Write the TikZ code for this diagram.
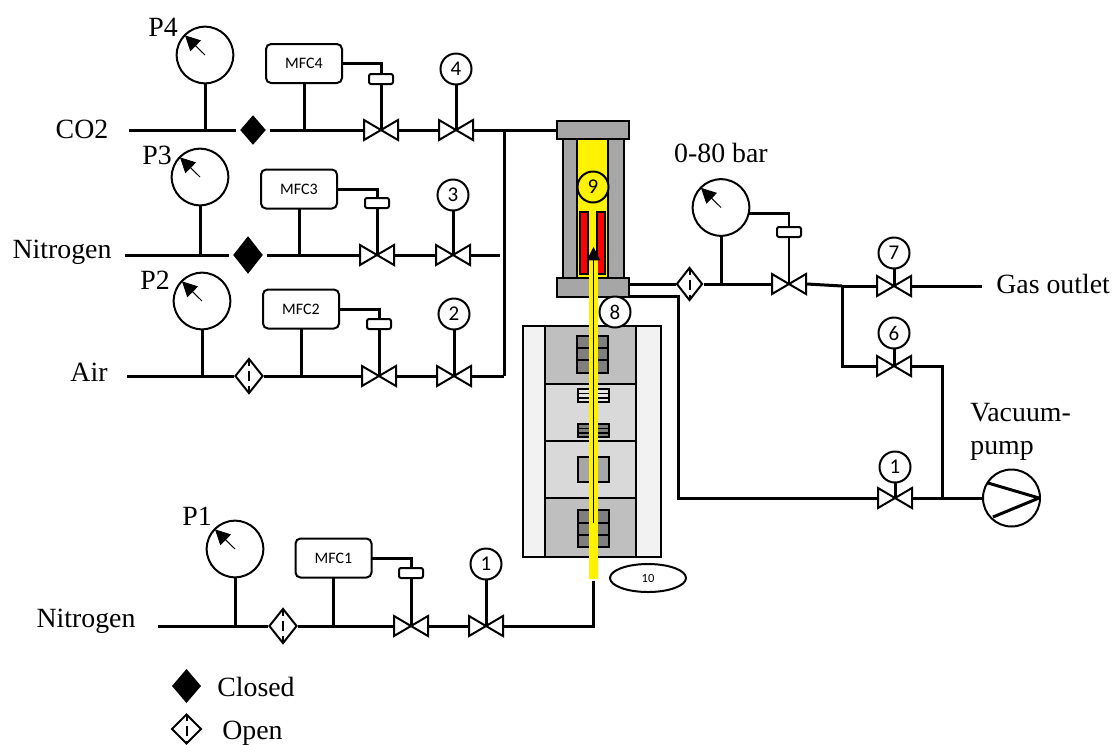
\documentclass[tikz,border=0pt]{standalone}
\usepackage{fontspec}
\setmainfont{Liberation Serif}
\newfontfamily\labelsans{Carlito}
\usetikzlibrary{arrows.meta,shapes.geometric,calc}
\tikzset{
  pipe/.style={line width=1.8pt},
  thinbox/.style={draw, line width=1.2pt},
  plainlabel/.style={font=\fontsize{16.7}{19.8}\selectfont, inner sep=0pt},
  valve/.style={rectangle, inner sep=0pt, outer sep=0pt, minimum width=21.6pt, minimum height=14.4pt,
    path picture={
      \draw[line width=1.2pt, fill=white] (path picture bounding box.center) -- +(-10.2pt,-6pt) -- +(-10.2pt,6pt) -- cycle;
      \draw[line width=1.2pt, fill=white] (path picture bounding box.center) -- +(10.2pt,-6pt) -- +(10.2pt,6pt) -- cycle;
    }},
  gauge/.style={circle, draw, fill=white, line width=1.2pt, inner sep=0pt, outer sep=0pt, minimum size=34pt,
    path picture={
      \draw[line width=0.6pt, -{Triangle[length=9pt,width=9pt]}] (path picture bounding box.center) -- +(-12pt,11.8pt);
    }},
  mfc/.style={draw, fill=white, line width=1.2pt, rounded corners=3pt, minimum width=45.6pt, minimum height=23.4pt,
    inner sep=0pt, outer sep=0pt, font=\labelsans\fontsize{9.6}{11}\selectfont},
  actuator/.style={draw, fill=white, line width=1.2pt, rounded corners=1.2pt, minimum width=14.4pt, minimum height=6pt,
    inner sep=0pt, outer sep=0pt},
  number/.style={circle, draw, fill=white, line width=1.2pt, minimum size=18.6pt, inner sep=0pt, outer sep=0pt,
    font=\labelsans\fontsize{12.6}{14}\selectfont},
  closedcheck/.style={diamond, fill=black, inner sep=0pt, outer sep=1.8pt},
  opencheck/.style={diamond, draw, fill=white, line width=1.2pt, inner sep=0pt, outer sep=0.6pt,
    path picture={
      \draw[line width=1.2pt, dash pattern=on 4pt off 3pt on 6pt off 3pt on 4pt] (path picture bounding box.north) -- (path picture bounding box.south);
    }},
  flange/.style={draw, fill={rgb,255:red,166; green,166; blue,166}, line width=1.2pt, minimum width=43.2pt, minimum height=11.1pt,
    inner sep=0pt, outer sep=0pt},
  furnace/.style={draw, line width=1.2pt},
  coil/.style={draw, line width=1.2pt, fill={rgb,255:red,127; green,127; blue,127}}
}
\begin{document}
\begin{tikzpicture}[x=0.6pt,y=-0.6pt]
  \useasboundingbox (0,0) rectangle (1115,744);

  \draw [furnace, fill={rgb,255:red,242; green,242; blue,242}] (523,326) rectangle (545,557);
  \draw [furnace, fill={rgb,255:red,242; green,242; blue,242}] (636,326) rectangle (661,557);
  \draw [furnace, fill={rgb,255:red,191; green,191; blue,191}] (545,326) rectangle (636,384);
  \draw [furnace, fill={rgb,255:red,217; green,217; blue,217}] (545,384) rectangle (636,441);
  \draw [furnace, fill={rgb,255:red,217; green,217; blue,217}] (545,441) rectangle (636,498);
  \draw [furnace, fill={rgb,255:red,191; green,191; blue,191}] (545,498) rectangle (636,557);
  \draw [coil] (577,336) rectangle (608,373);
  \draw [line width=1.2pt] (577,348) -- (608,348) (577,360) -- (608,360);
  \draw [coil, fill={rgb,255:red,230; green,230; blue,230}] (578,389) rectangle (609,402);
  \draw [line width=0.9pt] (578,393.5) -- (609,393.5) (578,398) -- (609,398);
  \draw [coil] (578,424) rectangle (609,437);
  \draw [line width=0.9pt] (578,428.5) -- (609,428.5) (578,433) -- (609,433);
  \draw [coil, fill={rgb,255:red,166; green,166; blue,166}] (578,457) rectangle (609,482);
  \draw [coil] (578,510) rectangle (609,547);
  \draw [line width=1.2pt] (578,523) -- (609,523) (578,535) -- (609,535);

  \draw [furnace, fill={rgb,255:red,166; green,166; blue,166}] (563,139) rectangle (577,278);
  \draw [furnace, fill={rgb,255:red,166; green,166; blue,166}] (608,139) rectangle (624,278);
  \draw [furnace, fill=yellow] (577,139) rectangle (608,278);
  \draw [furnace, fill=red] (580,212) rectangle (588,274);
  \draw [furnace, fill=red] (597,212) rectangle (605,274);
  \node [flange] (topflange) at (593,130) {};
  \node [flange] (botflange) at (593,287.5) {};
  \node [number, fill=yellow] (n9) at (593,187) {9};
  \draw [line width=5.4pt, yellow] (593,260) -- (593,579);
  \draw [line width=0.9pt, -{Triangle[length=8pt,width=8pt]}] (593.5,523) -- (593.5,247);
  \node [number] (n8) at (615,312) {8};
  \node [ellipse, draw, line width=1.2pt, minimum width=45.6pt, minimum height=16.8pt, inner sep=0pt, font=\labelsans\fontsize{7.5}{9}\selectfont] (n10) at (648,578) {10};

  \coordinate (co2start) at (129,130);
  \coordinate (co2end) at (504,130);
  \coordinate (nitrostart) at (125,255);
  \coordinate (nitroend) at (500,255);
  \coordinate (airstart) at (127,376);
  \coordinate (airend) at (504,376);
  \coordinate (purgestart) at (158,626);
  \coordinate (tubeend) at (593.5,581);

  \node [gauge] (P4) at (205,55) {};
  \node [closedcheck, minimum width=16.8pt, minimum height=19.2pt] (D4) at (253,130) {};
  \node [mfc] (MFC4) at (304,63.5) {MFC4};
  \node [actuator] (act4) at (381,79) {};
  \node [valve] (Vm4) at (381,130) {};
  \node [valve] (V4) at (456,130) {};
  \node [number] (n4) at (456,69) {4};

  \node [gauge] (P3) at (200,177) {};
  \node [closedcheck, minimum width=19.2pt, minimum height=24pt] (D3) at (248,255) {};
  \node [mfc] (MFC3) at (299,189) {MFC3};
  \node [actuator] (act3) at (377,203) {};
  \node [valve] (Vm3) at (377,255) {};
  \node [valve] (V3) at (453,255) {};
  \node [number] (n3) at (453,195) {3};

  \node [gauge] (P2) at (202,301) {};
  \node [opencheck, minimum width=16.8pt, minimum height=21pt] (D2) at (249,376) {};
  \node [mfc] (MFC2) at (301,309) {MFC2};
  \node [actuator] (act2) at (379,324) {};
  \node [valve] (Vm2) at (379,376) {};
  \node [valve] (V2) at (454,376) {};
  \node [number] (n2) at (454,314) {2};

  \node [gauge] (P1) at (235,549) {};
  \node [opencheck, minimum width=16.8pt, minimum height=21pt] (D1) at (283,626) {};
  \node [mfc] (MFC1) at (333.5,558) {MFC1};
  \node [actuator] (act1) at (411,573) {};
  \node [valve] (Vm1) at (411,626) {};
  \node [valve] (V1) at (486,626) {};
  \node [number] (n1) at (486,564) {1};

  \node [opencheck, minimum width=15.6pt, minimum height=19.8pt] (D5) at (689.5,284) {};
  \node [gauge] (P5) at (721,207.5) {};
  \node [actuator] (act5) at (789,232) {};
  \node [valve] (Vm5) at (789,284) {};
  \node [valve] (V7) at (894,286) {};
  \node [number] (n7) at (894,253) {7};
  \node [valve] (V6) at (894,366) {};
  \node [number] (n6) at (894,333) {6};
  \node [valve] (V5) at (895,498) {};
  \node [number] (n5) at (895,467) {1};
  \node [circle, draw, line width=1.2pt, minimum size=34.2pt, inner sep=0pt, outer sep=0pt] (pump) at (1011.5,498) {};
  \coordinate (tee) at (842,286);
  \coordinate (gasend) at (982,286);
  \coordinate (pumptee) at (942,498);

  \draw [pipe] (co2start) -- (D4.west);
  \draw [pipe] (D4.east) -- (Vm4.west);
  \draw [pipe] (Vm4.east) -- (V4.west);
  \draw [pipe] (V4.east) -- (topflange.west);
  \draw [pipe] (P4.south) -- (P4.south |- co2start);
  \draw [pipe] (MFC4.south) -- (MFC4.south |- co2start);
  \draw [pipe] (MFC4.east) -| (act4.north);
  \draw [pipe] (act4.south) -- (Vm4.center);
  \draw [pipe] (n4.south) -- (V4.center);

  \draw [pipe] (nitrostart) -- (D3.west);
  \draw [pipe] (D3.east) -- (Vm3.west);
  \draw [pipe] (Vm3.east) -- (V3.west);
  \draw [pipe] (V3.east) -- (nitroend);
  \draw [pipe] (P3.south) -- (P3.south |- nitrostart);
  \draw [pipe] (MFC3.south) -- (MFC3.south |- nitrostart);
  \draw [pipe] (MFC3.east) -| (act3.north);
  \draw [pipe] (act3.south) -- (Vm3.center);
  \draw [pipe] (n3.south) -- (V3.center);

  \draw [pipe] (airstart) -- (D2.west);
  \draw [pipe] (D2.east) -- (Vm2.west);
  \draw [pipe] (Vm2.east) -- (V2.west);
  \draw [pipe] (V2.east) -- (airend);
  \draw [pipe] (P2.south) -- (P2.south |- airstart);
  \draw [pipe] (MFC2.south) -- (MFC2.south |- airstart);
  \draw [pipe] (MFC2.east) -| (act2.north);
  \draw [pipe] (act2.south) -- (Vm2.center);
  \draw [pipe] (n2.south) -- (V2.center);
  \draw [pipe] (co2end) -- (airend);

  \draw [pipe] (purgestart) -- (D1.west);
  \draw [pipe] (D1.east) -- (Vm1.west);
  \draw [pipe] (Vm1.east) -- (V1.west);
  \draw [pipe] (V1.east) -| (tubeend);
  \draw [pipe] (P1.south) -- (P1.south |- purgestart);
  \draw [pipe] (MFC1.south) -- (MFC1.south |- purgestart);
  \draw [pipe] (MFC1.east) -| (act1.north);
  \draw [pipe] (act1.south) -- (Vm1.center);
  \draw [pipe] (n1.south) -- (V1.center);

  \draw [pipe] (D5.west -| botflange.east) -- (D5.west);
  \draw [pipe] (D5.east) -- (Vm5.west);
  \draw [pipe] (P5.south) -- (P5.south |- D5.east);
  \draw [pipe, line width=1.5pt] ($(P5.east)+(0,6)$) -| (act5.north);
  \draw [pipe, line width=1.5pt] (act5.south) -- (Vm5.center);
  \draw [pipe] (Vm5.east) -- (tee);
  \draw [pipe] (tee) -- (V7.west);
  \draw [pipe] (V7.east) -- (gasend);
  \draw [pipe] (n7.south) -- (V7.center);
  \draw [pipe] (tee) |- (V6.west);
  \draw [pipe] (n6.south) -- (V6.center);
  \draw [pipe] (V6.east) -| (pumptee);
  \draw [pipe] (botflange.south east) -| (678,498) -- (V5.west);
  \draw [pipe] (V5.east) -- (pump.west);
  \draw [pipe] (n5.south) -- (V5.center);
  \draw [pipe, line join=round] (988,483) -- (1039,498) -- (993,517);

  \node [plainlabel] (co2label) at (82,129) {CO2};
  \node [plainlabel] (nitrolabel) at (62,252) {Nitrogen};
  \node [plainlabel] (airlabel) at (89,372) {Air};
  \node [plainlabel] (purgelabel) at (86,621) {Nitrogen};
  \node [plainlabel] (p4label) at (163,27) {P4};
  \node [plainlabel] (p3label) at (157,155) {P3};
  \node [plainlabel] (p2label) at (155,280) {P2};
  \node [plainlabel] (p1label) at (197,516) {P1};
  \node [plainlabel] (barlabel) at (721,153) {0-80 bar};
  \node [plainlabel, anchor=west] (gaslabel) at (996,284) {Gas outlet};
  \node [plainlabel, anchor=west, align=left] (vacuumlabel) at (970,432) {Vacuum-\\pump};

  \node [closedcheck, minimum width=17.4pt, minimum height=20.4pt, outer sep=0pt] (closedkey) at (186.5,686) {};
  \node [plainlabel, anchor=west] (closedlabel) at (217,687) {Closed};
  \node [opencheck, minimum width=17.4pt, minimum height=17.4pt, outer sep=0pt] (openkey) at (186.5,729) {};
  \node [plainlabel, anchor=west] (openlabel) at (222,733) {Open};
\end{tikzpicture}
\end{document}
